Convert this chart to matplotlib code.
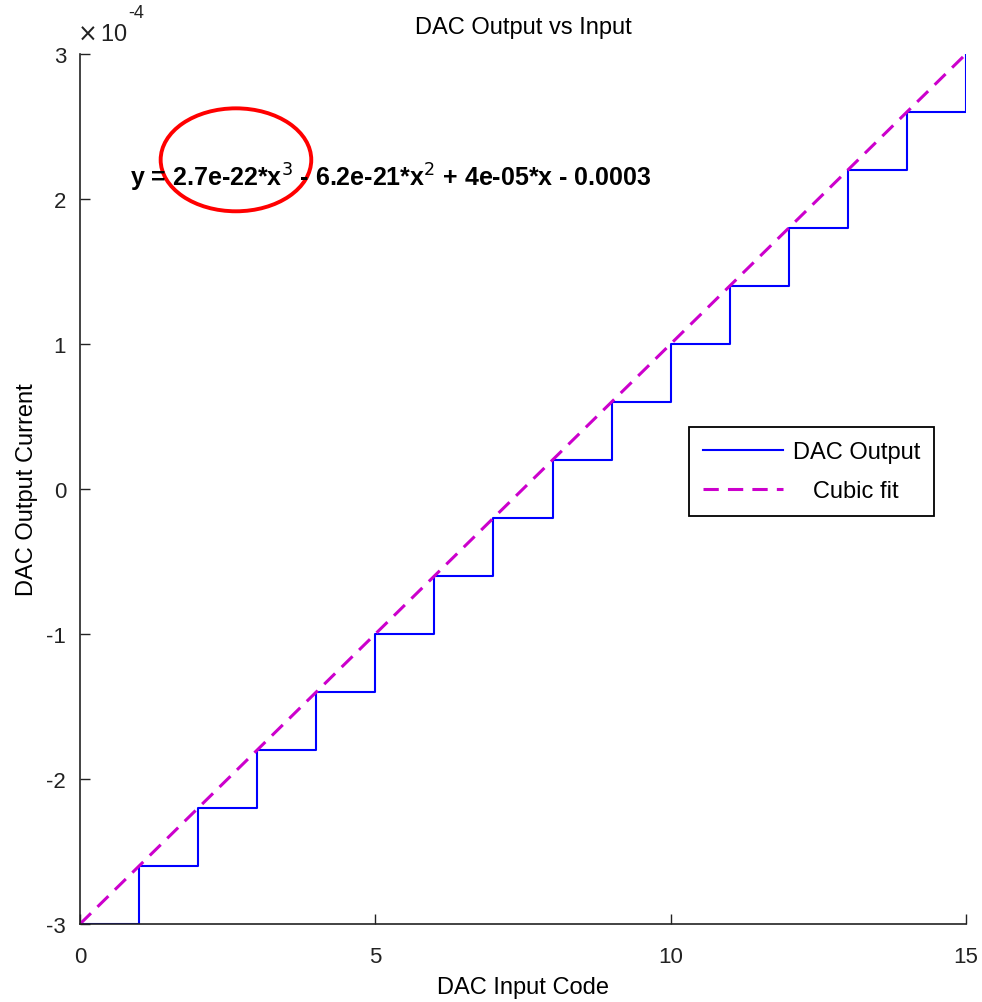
import numpy as np
import matplotlib.pyplot as plt
from matplotlib.patches import Ellipse
from matplotlib.ticker import FuncFormatter

plt.rcParams['font.family'] = ['Liberation Sans', 'DejaVu Sans']

# DAC input codes and measured output current (A)
codes = [0, 1, 2, 3, 4, 5, 6, 7, 8, 9, 10, 11, 12, 13, 14, 15]
dac_out = [-3.0e-4, -2.6e-4, -2.2e-4, -1.8e-4, -1.4e-4, -1.0e-4, -0.6e-4, -0.2e-4,
           0.2e-4, 0.6e-4, 1.0e-4, 1.4e-4, 1.8e-4, 2.2e-4, 2.6e-4, 3.0e-4]
# cubic fit evaluated at the codes
fit_out = [-3.0e-4, -2.6e-4, -2.2e-4, -1.8e-4, -1.4e-4, -1.0e-4, -0.6e-4, -0.2e-4,
           0.2e-4, 0.6e-4, 1.0e-4, 1.4e-4, 1.8e-4, 2.2e-4, 2.6e-4, 3.0e-4]
yticks = [-3e-4, -2e-4, -1e-4, 0, 1e-4, 2e-4, 3e-4]
xticks = [0, 5, 10, 15]
eq_text = r'y = 2.7e-22*x$^3$ - 6.2e-21*x$^2$ + 4e-05*x - 0.0003'

fig = plt.figure(figsize=(9.82, 10.03), dpi=100)
ax = fig.add_axes([0.0815, 0.0778, 0.9022, 0.8674])

ax.step(codes, dac_out, where='post', color='#0000ff', lw=1.5, label='DAC Output')
ax.plot(codes, fit_out, color='#cc00cc', lw=2.2, dashes=(5, 3), label='   Cubic fit')

ax.set_xlim(0, 15)
ax.set_ylim(-3e-4, 3e-4)
ax.set_xticks(xticks)
ax.set_yticks(yticks)
ax.yaxis.set_major_formatter(FuncFormatter(lambda v, p: '%g' % round(v * 1e4)))
ax.tick_params(direction='in', length=7, width=1, labelsize=16, colors='#222222')
ax.tick_params(axis='x', pad=16)
ax.tick_params(axis='y', pad=10)
for s in ['top', 'right']:
    ax.spines[s].set_visible(False)
for s in ['left', 'bottom']:
    ax.spines[s].set_linewidth(1.2)
    ax.spines[s].set_color('#222222')

ax.set_title('DAC Output vs Input', fontsize=17, pad=15)
ax.set_xlabel('DAC Input Code', fontsize=17, labelpad=6)
ax.set_ylabel('DAC Output Current', fontsize=17, labelpad=6)

ax.text(-0.003, 1.01, r'$\times\,$10', transform=ax.transAxes, fontsize=17,
        ha='left', va='bottom', color='#222222')
ax.text(0.054, 1.038, '-4', transform=ax.transAxes, fontsize=13,
        ha='left', va='bottom', color='#222222')

ax.text(0.85, 2.15e-4, eq_text, fontsize=18, fontweight='bold', va='center', ha='left')
ax.add_patch(Ellipse((2.64, 2.27e-4), 2.55, 0.71e-4, fill=False, color='red', lw=2.8))

leg = ax.legend(loc='upper left', bbox_to_anchor=(0.687, 0.571), fontsize=17,
                fancybox=False, framealpha=1, edgecolor='black', handlelength=3.4,
                handletextpad=0.4, borderpad=0.6, labelspacing=0.7, borderaxespad=0)
leg.get_frame().set_linewidth(1.3)

fig.savefig('out.png', dpi=100)
